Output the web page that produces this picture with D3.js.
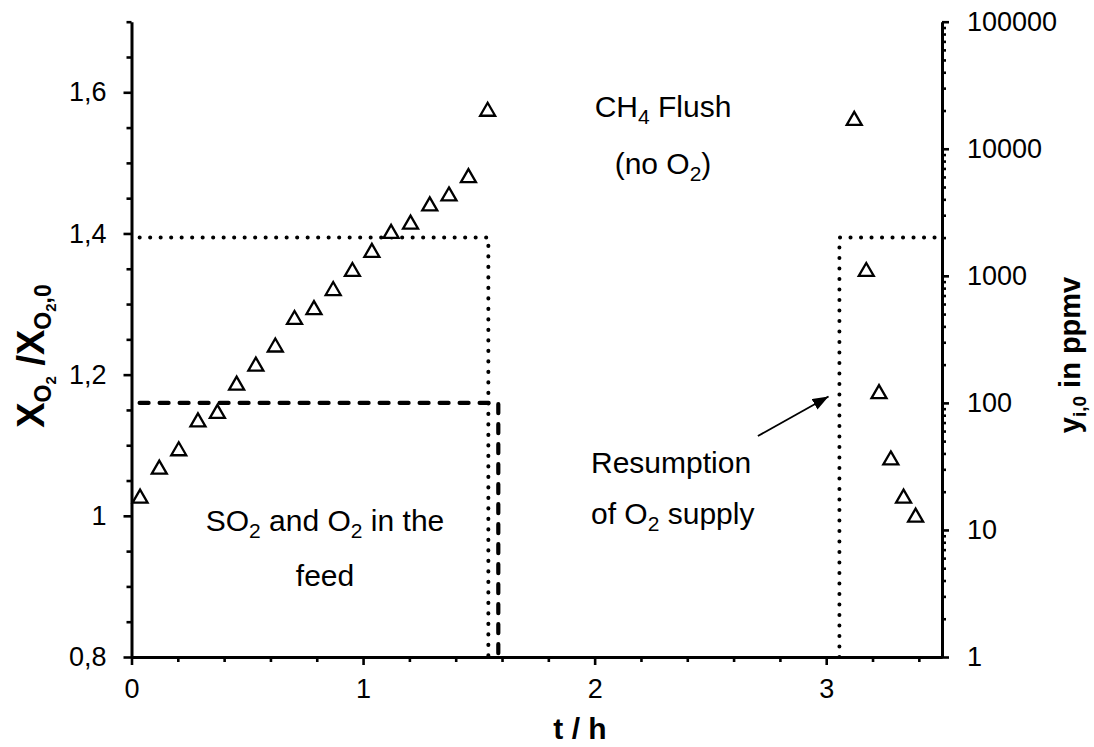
<!DOCTYPE html>
<html>
<head>
<meta charset="utf-8">
<script src="https://cdn.jsdelivr.net/npm/d3@7"></script>
<style>
  html, body { margin: 0; padding: 0; background: #fff; }
  svg { display: block; font-family: "Liberation Sans", Arial, sans-serif; }
</style>
</head>
<body>
<svg id="chart" width="1094" height="747"></svg>
<script>
// O2 conversion ratio during the run (left axis)
const feedTimes   = [0.037, 0.120, 0.204, 0.287, 0.371, 0.454, 0.537, 0.621, 0.704, 0.788,
                     0.871, 0.954, 1.038, 1.121, 1.205, 1.288, 1.371, 1.455, 1.538];
const feedRatio   = [1.028, 1.069, 1.095, 1.136, 1.148, 1.188, 1.215, 1.242, 1.281, 1.295,
                     1.322, 1.349, 1.376, 1.403, 1.416, 1.442, 1.456, 1.482, 1.576];
const resumeTimes = [3.121, 3.173, 3.228, 3.279, 3.334, 3.386];
const resumeRatio = [1.563, 1.349, 1.176, 1.082, 1.028, 1.001];

// Inlet concentrations (right axis, ppmv)
const o2Steps  = [[0.035, 2000], [1.541, 2000], [1.541, 1]];
const o2Resume = [[3.057, 1], [3.057, 2000], [3.5, 2000]];
const so2Steps = [[0.035, 100], [1.584, 100], [1.584, 1]];

// Axis ticks
const xTicks     = [0, 1, 2, 3];
const leftTicks  = [0.8, 1, 1.2, 1.4, 1.6];
const leftLabels = ["0,8", "1", "1,2", "1,4", "1,6"];
const rightTicks = [1, 10, 100, 1000, 10000, 100000];

const svg = d3.select("#chart");
const plotL = 131.5, plotR = 942, plotT = 21.7, plotB = 657;

const x  = d3.scaleLinear().domain([0, 3.5]).range([plotL, plotR]);
const yL = d3.scaleLinear().domain([0.8, 1.7]).range([plotB, plotT]);
const yR = d3.scaleLog().domain([1, 100000]).range([plotB, plotT]);

const black = "#000";

// ---- axes ----
function styleAxis(g, fs) {
  g.select(".domain").attr("stroke", black).attr("stroke-width", 3);
  g.selectAll(".tick line").attr("stroke", black).attr("stroke-width", 2.6);
  g.selectAll(".tick text").attr("fill", black).attr("font-size", fs)
    .attr("font-family", "'Liberation Sans', Arial, sans-serif");
}

// bottom axis: minor ticks every 0.2
const xMinor = d3.range(0, 3.5001, 0.2).map(v => +v.toFixed(2)).filter(v => !xTicks.includes(v));
svg.append("g").attr("transform", `translate(0,${plotB})`)
  .call(d3.axisBottom(x).tickValues(xMinor).tickSize(5).tickFormat(""))
  .call(g => { styleAxis(g, 27); g.select(".domain").remove(); });
svg.append("g").attr("transform", `translate(0,${plotB})`)
  .call(d3.axisBottom(x).tickValues(xTicks).tickSize(8).tickSizeOuter(0).tickPadding(14).tickFormat(d3.format("d")))
  .call(g => styleAxis(g, 27));

// left axis: minor ticks every 0.05
const leftMinor = d3.range(0.8, 1.7001, 0.05).map(v => +v.toFixed(2)).filter(v => !leftTicks.includes(v));
svg.append("g").attr("transform", `translate(${plotL},0)`)
  .call(d3.axisLeft(yL).tickValues(leftMinor).tickSize(5).tickFormat(""))
  .call(g => { styleAxis(g, 27); g.select(".domain").remove(); });
svg.append("g").attr("transform", `translate(${plotL},0)`)
  .call(d3.axisLeft(yL).tickValues(leftTicks).tickSize(8).tickSizeOuter(0).tickPadding(17)
        .tickFormat((d, i) => leftLabels[i]))
  .call(g => styleAxis(g, 27));

// right axis: log minor ticks 2..9 per decade
const rightMinor = [];
for (let e = 0; e < 5; e++) for (let m = 2; m <= 9; m++) rightMinor.push(m * Math.pow(10, e));
svg.append("g").attr("transform", `translate(${plotR},0)`)
  .call(d3.axisRight(yR).tickValues(rightMinor).tickSize(4).tickFormat(""))
  .call(g => { styleAxis(g, 27); g.select(".domain").remove(); });
svg.append("g").attr("transform", `translate(${plotR},0)`)
  .call(d3.axisRight(yR).tickValues(rightTicks).tickSize(7).tickSizeOuter(0).tickPadding(18)
        .tickFormat(d3.format("d")))
  .call(g => styleAxis(g, 27));

// ---- step lines (right axis) ----
const stepLine = d3.line().x(d => x(d[0])).y(d => yR(d[1]));
[o2Steps, o2Resume].forEach(s => {
  svg.append("path").attr("d", stepLine(s)).attr("fill", "none")
    .attr("stroke", black).attr("stroke-width", 4).attr("stroke-linecap", "round")
    .attr("stroke-dasharray", "0.1 10.4");
});
svg.append("path").attr("d", stepLine(so2Steps)).attr("fill", "none")
  .attr("stroke", black).attr("stroke-width", 4.2).attr("stroke-linecap", "round")
  .attr("stroke-dasharray", "9 11");

// ---- triangle markers (left axis) ----
const tri = "M0,-6.5L7.5,6.5L-7.5,6.5Z";
function drawMarkers(ts, vs) {
  svg.append("g").selectAll("path").data(ts.map((t, i) => [t, vs[i]])).join("path")
    .attr("d", tri)
    .attr("transform", d => `translate(${x(d[0])},${yL(d[1])})`)
    .attr("fill", "#fff").attr("stroke", black).attr("stroke-width", 2.3);
}
drawMarkers(feedTimes, feedRatio);
drawMarkers(resumeTimes, resumeRatio);

// ---- annotations ----
const defs = svg.append("defs");
defs.append("marker").attr("id", "arrowHead")
  .attr("viewBox", "0 0 16 12").attr("refX", 16).attr("refY", 6)
  .attr("markerWidth", 16).attr("markerHeight", 12).attr("markerUnits", "userSpaceOnUse")
  .attr("orient", "auto")
  .append("path").attr("d", "M0,0L16,6L0,12Z").attr("fill", black);

const arrowFrom = [2.705, 1.113], arrowTo = [3.010, 1.169];
svg.append("line")
  .attr("x1", x(arrowFrom[0])).attr("y1", yL(arrowFrom[1]))
  .attr("x2", x(arrowTo[0])).attr("y2", yL(arrowTo[1]))
  .attr("stroke", black).attr("stroke-width", 1.8)
  .attr("marker-end", "url(#arrowHead)");

const annFs = 30;
// parts: plain strings or {sub: "..."} for subscripts
function note(tx, ty, parts, anchor) {
  const t = svg.append("text").attr("x", tx).attr("y", ty)
    .attr("text-anchor", anchor || "middle").attr("font-size", annFs).attr("fill", black);
  let shifted = false;
  parts.forEach(p => {
    if (typeof p === "string") {
      t.append("tspan").attr("dy", shifted ? -7 : 0).text(p);
      shifted = false;
    } else {
      t.append("tspan").attr("font-size", annFs * 0.7).attr("dy", 7).text(p.sub);
      shifted = true;
    }
  });
  return t;
}
note(663, 117, ["CH", {sub: "4"}, " Flush"]);
note(663, 174, ["(no O", {sub: "2"}, ")"]);
note(325, 531, ["SO", {sub: "2"}, " and O", {sub: "2"}, " in the"]);
note(325, 586, ["feed"]);
note(591, 473, ["Resumption"], "start");
note(591, 524, ["of O", {sub: "2"}, " supply"], "start");

// ---- axis titles ----
svg.append("text").attr("x", 580).attr("y", 739).attr("text-anchor", "middle")
  .attr("font-size", 30).attr("font-weight", "bold").text("t / h");

const lt = svg.append("text").attr("transform", "translate(44,356) rotate(-90)")
  .attr("text-anchor", "middle").attr("font-weight", "bold").attr("font-size", 38);
lt.append("tspan").text("X");
lt.append("tspan").attr("font-size", 23).attr("dy", 7).text("O");
lt.append("tspan").attr("font-size", 15).attr("dy", 5).text("2");
lt.append("tspan").attr("dy", -12).text(" /X");
lt.append("tspan").attr("font-size", 23).attr("dy", 7).text("O");
lt.append("tspan").attr("font-size", 15).attr("dy", 5).text("2");
lt.append("tspan").attr("font-size", 23).attr("dy", -5).text(",0");

const rt = svg.append("text").attr("transform", "translate(1080,355) rotate(-90)")
  .attr("text-anchor", "middle").attr("font-weight", "bold").attr("font-size", 29);
rt.append("tspan").text("y");
rt.append("tspan").attr("font-size", 19).attr("dy", 6).text("i,0");
rt.append("tspan").attr("dy", -6).text(" in ppmv");
</script>
</body>
</html>
